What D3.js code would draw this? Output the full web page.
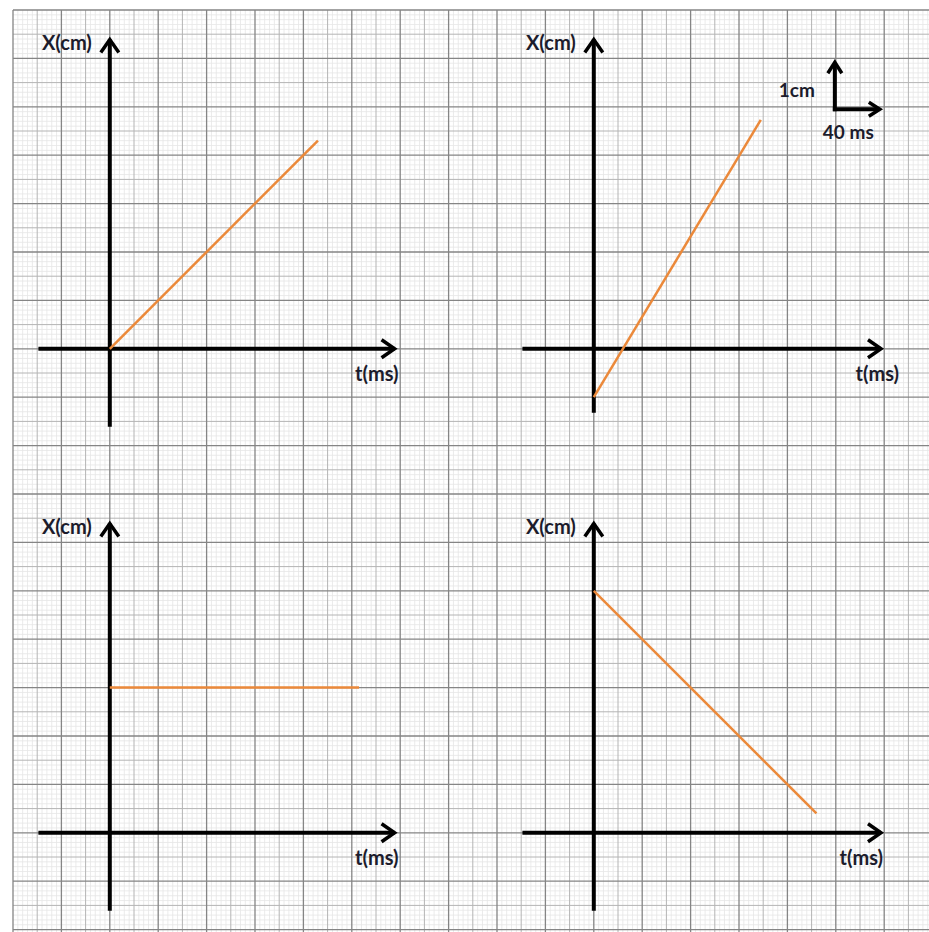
<!DOCTYPE html>
<html>
<head>
<meta charset="utf-8">
<script src="https://cdn.jsdelivr.net/npm/d3@7"></script>
<style>
  body { margin: 0; background: #fff; }
  svg { display: block; }
</style>
</head>
<body>
<div id="chart"></div>
<script>
// ---------------  DATA  ---------------
// each panel: start and end of the orange segment, t in ms and X in cm
const panelTimes = [[0, 172], [0, 138], [0, 206], [0, 184]];
const panelPositions = [[0, 4.3], [-1, 4.73], [3, 3], [5, 0.4]];
const labelX = "X(cm)";
const labelT = "t(ms)";
const unitX = "1cm";
const unitT = "40 ms";
const msPerSquare = 40;
const cmPerSquare = 1;

// ---------------  LAYOUT  ---------------
const w = 929, h = 932;
const cell = 48.4;          // one big square of the paper
const gx0 = 13, gy0 = 10;   // top-left corner of the paper

const svg = d3.select("#chart").append("svg").attr("width", w).attr("height", h);

// paper scales, in squares
const paperX = d3.scaleLinear().domain([0, 1]).range([gx0, gx0 + cell]);
const paperY = d3.scaleLinear().domain([0, 1]).range([gy0, gy0 + cell]);

// ---------------  GRID PAPER  ---------------
const grid = svg.append("g");
const nCols = Math.ceil((w - gx0) / cell) * 10;
const nRows = Math.ceil((h - gy0) / cell) * 10;
const lineStyle = (i) => i % 10 === 0 ? ["#858585", 1.3] : i % 5 === 0 ? ["#b4b4b4", 1] : ["#e6e6e6", 0.8];
// fine first, dark on top
[2, 1, 0].forEach((level) => {
  const keep = (i) => (level === 0 ? i % 10 === 0 : level === 1 ? i % 5 === 0 && i % 10 !== 0 : i % 5 !== 0);
  grid.selectAll(null)
    .data(d3.range(0, nCols + 1).filter(keep))
    .enter().append("line")
    .attr("x1", (i) => paperX(i / 10)).attr("x2", (i) => paperX(i / 10))
    .attr("y1", gy0).attr("y2", h)
    .attr("stroke", (i) => lineStyle(i)[0])
    .attr("stroke-width", (i) => lineStyle(i)[1]);
  grid.selectAll(null)
    .data(d3.range(0, nRows + 1).filter(keep))
    .enter().append("line")
    .attr("y1", (i) => paperY(i / 10)).attr("y2", (i) => paperY(i / 10))
    .attr("x1", gx0).attr("x2", w)
    .attr("stroke", (i) => lineStyle(i)[0])
    .attr("stroke-width", (i) => lineStyle(i)[1]);
});

// ---------------  PANELS  ---------------
// origin of each panel on the paper (in squares) and axis extents (ms / cm)
const panels = [
  { col: 2,  row: 7,  tExt: [-59, 237], xExt: [-1.61, 6.43], tLabelDx: 2 },
  { col: 12, row: 7,  tExt: [-59, 239], xExt: [-1.32, 6.43], tLabelDx: 16 },
  { col: 2,  row: 17, tExt: [-59, 237], xExt: [-1.61, 6.43], tLabelDx: 2 },
  { col: 12, row: 17, tExt: [-59, 239], xExt: [-1.61, 6.43], tLabelDx: 0 },
];

const font = "Lato, 'Open Sans', sans-serif";
const ink = "#1c1c2c";

panels.forEach((p, k) => {
  const ox = paperX(p.col), oy = paperY(p.row);
  const t = d3.scaleLinear().domain([0, msPerSquare]).range([ox, ox + cell]);
  const x = d3.scaleLinear().domain([0, cmPerSquare]).range([oy, oy - cell]);
  const g = svg.append("g");

  // axes
  const tx1 = t(p.tExt[0]), tx2 = t(p.tExt[1]);
  const xy1 = x(p.xExt[0]), xy2 = x(p.xExt[1]);
  g.append("line").attr("x1", tx1).attr("x2", tx2 - 2).attr("y1", oy).attr("y2", oy)
    .attr("stroke", "#000").attr("stroke-width", 4);
  g.append("line").attr("x1", ox).attr("x2", ox).attr("y1", xy1).attr("y2", xy2 + 2)
    .attr("stroke", "#000").attr("stroke-width", 4);
  // arrow heads
  g.append("polyline")
    .attr("points", [[tx2 - 15, oy - 9], [tx2 - 2, oy], [tx2 - 15, oy + 9]].join(" "))
    .attr("fill", "none").attr("stroke", "#000").attr("stroke-width", 3.5);
  g.append("polyline")
    .attr("points", [[ox - 9, xy2 + 15], [ox, xy2 + 2], [ox + 9, xy2 + 15]].join(" "))
    .attr("fill", "none").attr("stroke", "#000").attr("stroke-width", 3.5);

  // orange segment
  const pts = panelTimes[k].map((d, i) => [t(d), x(panelPositions[k][i])]);
  g.append("path").attr("d", d3.line()(pts))
    .attr("fill", "none").attr("stroke", "#eb893a").attr("stroke-width", 2.5);

  // labels
  g.append("text").attr("x", ox - 18).attr("y", xy2 + 12)
    .attr("text-anchor", "end").style("font-family", font)
    .style("font-size", "20px").style("font-weight", "700").attr("fill", ink)
    .text(labelX);
  g.append("text").attr("x", tx2 + p.tLabelDx).attr("y", oy + 32)
    .attr("text-anchor", "end").style("font-family", font)
    .style("font-size", "20px").style("font-weight", "700").attr("fill", ink)
    .text(labelT);
});

// ---------------  UNIT KEY  ---------------
const kx = paperX(16.98), ky = paperY(2.05);
const key = svg.append("g");
key.append("line").attr("x1", kx).attr("x2", kx).attr("y1", ky + 2).attr("y2", ky - 45)
  .attr("stroke", "#000").attr("stroke-width", 4);
key.append("line").attr("x1", kx - 2).attr("x2", kx + 43).attr("y1", ky).attr("y2", ky)
  .attr("stroke", "#000").attr("stroke-width", 4);
key.append("polyline").attr("points", [[kx - 7, ky - 36], [kx, ky - 47], [kx + 7, ky - 36]].join(" "))
  .attr("fill", "none").attr("stroke", "#000").attr("stroke-width", 3.5);
key.append("polyline").attr("points", [[kx + 34, ky - 7], [kx + 45, ky], [kx + 34, ky + 7]].join(" "))
  .attr("fill", "none").attr("stroke", "#000").attr("stroke-width", 3.5);
key.append("text").attr("x", kx - 20).attr("y", ky - 12).attr("text-anchor", "end")
  .style("font-family", font).style("font-size", "19px").style("font-weight", "700")
  .attr("fill", ink).text(unitX);
key.append("text").attr("x", kx - 12).attr("y", ky + 30)
  .style("font-family", font).style("font-size", "19px").style("font-weight", "700")
  .attr("fill", ink).text(unitT);
</script>
</body>
</html>
